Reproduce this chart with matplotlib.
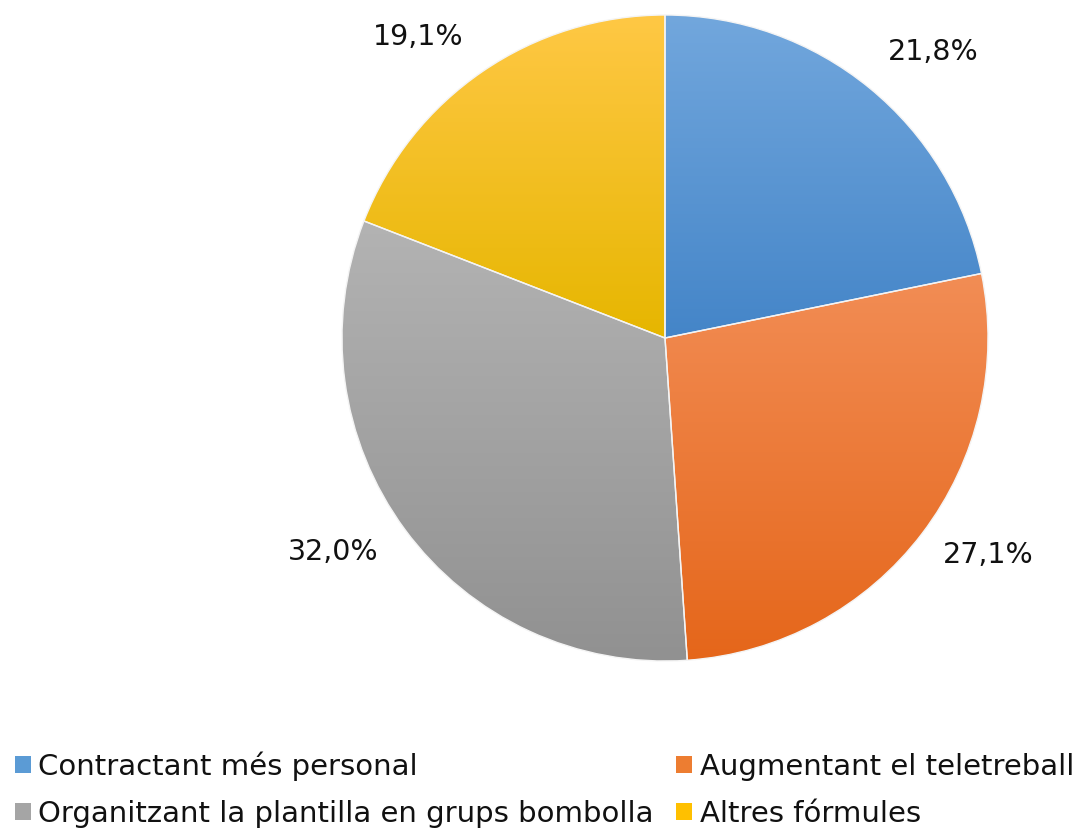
import numpy as np
import matplotlib.pyplot as plt
from matplotlib.colors import LinearSegmentedColormap
from matplotlib.patches import Patch

plt.rcParams['font.family'] = ['DejaVu Sans']

labels = ['Contractant més personal', 'Augmentant el teletreball',
          'Organitzant la plantilla en grups bombolla', 'Altres fórmules']
values = [21.8, 27.1, 32.0, 19.1]
# top / bottom colours of each slice gradient
tops = ['#72a7dd', '#f28d55', '#b3b3b3', '#ffc845']
bottoms = ['#4485c8', '#e5661a', '#919191', '#e6b600']
mids = ['#5b9bd5', '#ed7d31', '#a5a5a5', '#ffc000']
# where the percentage labels sit (data coords, Excel "best fit")
label_pos = [(933, 778), (988, 275), (333, 278), (418, 793)]

fig = plt.figure(figsize=(10.86, 8.3), dpi=100)
ax = fig.add_axes([0, 0, 1, 1])

wedges, texts, autotexts = ax.pie(
    values, center=(665, 492), radius=323, startangle=90, counterclock=False,
    colors=mids, autopct=lambda p: f'{p:.1f}%'.replace('.', ','),
    pctdistance=1.21, wedgeprops=dict(edgecolor='#f4f4f4', linewidth=1),
    textprops=dict(fontsize=20.5, color='#111111'), frame=True)
ax.set_xlim(0, 1086)
ax.set_ylim(0, 830)
ax.set_aspect('equal')
ax.axis('off')

for at, p in zip(autotexts, label_pos):
    at.set_position(p)

for w, t, b in zip(wedges, tops, bottoms):
    bb = w.get_path().get_extents(w.get_transform())
    inv = ax.transData.inverted()
    (x0, y0), (x1, y1) = inv.transform([[bb.x0, bb.y0], [bb.x1, bb.y1]])
    cmap = LinearSegmentedColormap.from_list('g', [t, b])
    grad = np.linspace(0, 1, 256).reshape(-1, 1)
    im = ax.imshow(grad, cmap=cmap, extent=(x0, x1, y0, y1), origin='upper',
                   aspect='auto', zorder=w.get_zorder() + 0.5)
    im.set_clip_path(w)
    w.set_facecolor('none')
    w.set_zorder(w.get_zorder() + 1)

handles = [Patch(facecolor=mids[i]) for i in [0, 2, 1, 3]]
order_labels = [labels[i] for i in [0, 2, 1, 3]]
fig.legend(handles, order_labels, loc='upper left', bbox_to_anchor=(0.0, 0.1125),
           ncol=2, frameon=False, fontsize=21, handlelength=0.55, handleheight=0.55,
           handletextpad=0.27, columnspacing=0.75, labelspacing=0.65,
           borderpad=0.2, borderaxespad=0.3, labelcolor='#111111')

fig.savefig('out.png', dpi=100)
